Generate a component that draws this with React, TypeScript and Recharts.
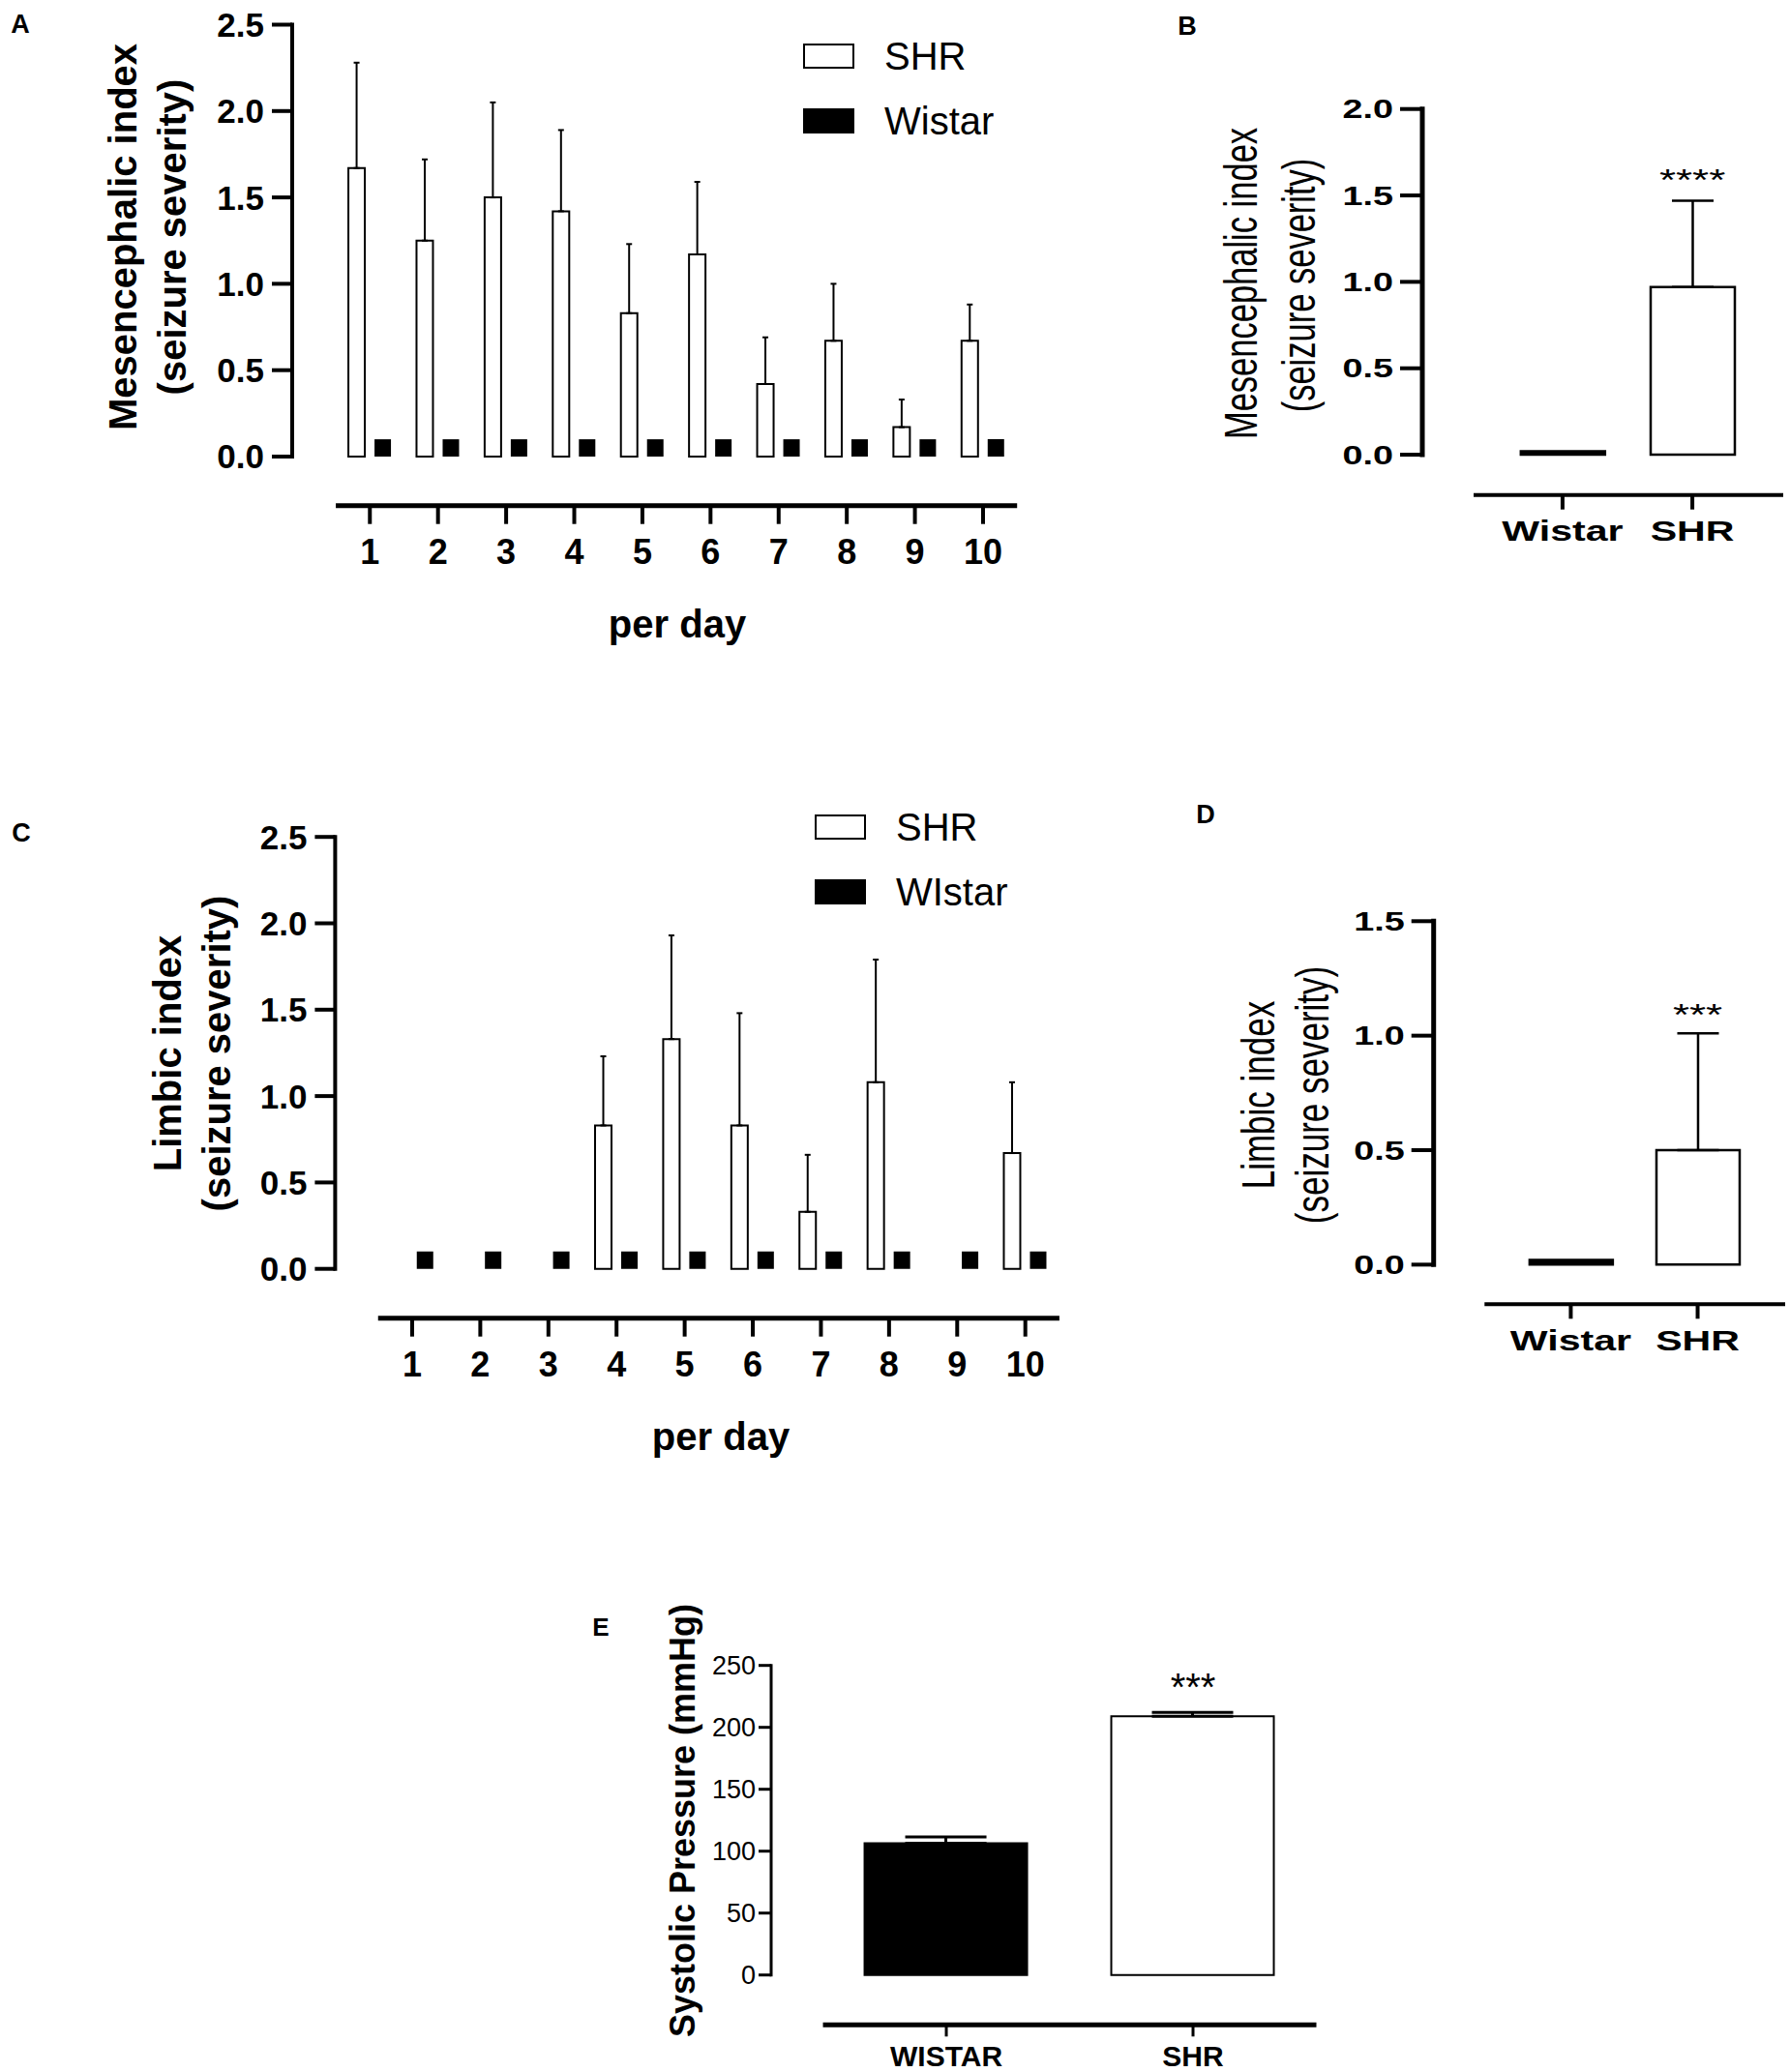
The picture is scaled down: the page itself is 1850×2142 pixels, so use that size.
import React from 'react';
import {
  BarChart,
  Bar,
  XAxis,
  YAxis,
  ErrorBar,
  ReferenceLine,
  ReferenceDot,
  Legend,
  Cell,
} from 'recharts';

const FONT = '"Liberation Sans", Arial, Helvetica, sans-serif';
const INK = '#000';

// ---- A: mesencephalic index per day ----
const days = [1, 2, 3, 4, 5, 6, 7, 8, 9, 10];
const mesShr = [1.67, 1.25, 1.5, 1.42, 0.83, 1.17, 0.42, 0.67, 0.17, 0.67];
const mesShrErr = [0.61, 0.47, 0.55, 0.47, 0.4, 0.42, 0.27, 0.33, 0.16, 0.21];
const mesWistar = [0.1, 0.1, 0.1, 0.1, 0.1, 0.1, 0.1, 0.1, 0.1, 0.1];

// ---- C: limbic index per day ----
const limShr = [0, 0, 0, 0.83, 1.33, 0.83, 0.33, 1.08, 0, 0.67];
const limShrErr = [null, null, null, 0.4, 0.6, 0.65, 0.33, 0.71, null, 0.41];
const limWistar = [0.1, 0.1, 0.1, 0.1, 0.1, 0.1, 0.1, 0.1, 0.1, 0.1];

const dayYTicks = [0, 0.5, 1, 1.5, 2, 2.5];

// ---- B / D: whole-period index ----
const groups = ['Wistar', 'SHR'];
const groupFills = [INK, '#fff'];
const mesTotal = [0.02, 0.97];
const mesTotalErr = [null, 0.5];
const limTotal = [0.02, 0.5];
const limTotalErr = [null, 0.51];
const mesTotalTicks = [0, 0.5, 1, 1.5, 2];
const limTotalTicks = [0, 0.5, 1, 1.5];

// ---- E: systolic pressure ----
const pressureGroups = ['WISTAR', 'SHR'];
const pressure = [106.5, 209];
const pressureErr = [5, 3];
const pressureTicks = [0, 50, 100, 150, 200, 250];

type Box = { left: number; top: number; width: number; height: number };
type Plot = { left: number; top: number; right: number; bottom: number };

const Y_W = 120;

function marginFor(box: Box, plot: Plot, xh: number) {
  return {
    left: plot.left - box.left - Y_W,
    top: plot.top - box.top,
    right: box.left + box.width - plot.right,
    bottom: box.top + box.height - plot.bottom - xh,
  };
}

const dayRows = (shr: number[], err: (number | null)[], wis: number[]) =>
  days.map((d, i) => ({
    day: d,
    shr: shr[i],
    shrErr: err[i] == null ? null : [0, err[i]],
    wistar: wis[i],
  }));

const groupRows = (vals: number[], errs: (number | null)[]) =>
  vals.map((v, i) => ({
    pos: i + 1,
    value: v,
    err: errs[i] == null ? null : [0, errs[i]],
    fill: groupFills[i],
  }));

function TextAt({ x, y, text, size, weight = 700, rotate = false, sx = 1 }: any) {
  const tf = `translate(-50%,-50%)${sx !== 1 ? ` scale(${sx},1)` : ''}${rotate ? ' rotate(-90deg)' : ''}`;
  return (
    <div style={{ position: 'absolute', left: x, top: y, width: 0, height: 0 }}>
      <span
        style={{
          position: 'absolute',
          left: 0,
          top: 0,
          transform: tf,
          whiteSpace: 'nowrap',
          fontFamily: FONT,
          fontSize: size,
          fontWeight: weight,
          lineHeight: 1,
          color: INK,
        }}
      >
        {text}
      </span>
    </div>
  );
}

function DayLegend({ names, gap }: { names: string[]; gap: number }) {
  return (
    <div style={{ position: 'relative', width: 280, height: gap + 30 }}>
      {names.map((n, i) => (
        <div
          key={n}
          style={{ position: 'absolute', left: 0, top: i * gap, height: 26, display: 'flex', alignItems: 'center' }}
        >
          <div
            style={{
              width: 53,
              height: 26,
              boxSizing: 'border-box',
              border: `2.5px solid ${INK}`,
              background: i === 0 ? '#fff' : INK,
            }}
          />
          <span style={{ marginLeft: 31, fontFamily: FONT, fontSize: 40, lineHeight: '26px', color: INK }}>{n}</span>
        </div>
      ))}
    </div>
  );
}

function DayPanel({ box, plot, data, xDomain, yDomain, names, legend }: any) {
  const xh = 90;
  const margin = marginFor(box, plot, xh);
  return (
    <div style={{ position: 'absolute', left: box.left, top: box.top }}>
      <BarChart width={box.width} height={box.height} data={data} margin={margin} barSize={17} barGap={10}>
        <XAxis
          type="number"
          dataKey="day"
          domain={xDomain}
          ticks={days}
          interval={0}
          height={xh}
          allowDataOverflow
          axisLine={false}
          tickLine={{ stroke: INK, strokeWidth: 4 }}
          tickSize={19}
          tickMargin={16}
          tick={{ fill: INK, fontSize: 36, fontWeight: 700, fontFamily: FONT }}
        />
        <YAxis
          type="number"
          domain={yDomain}
          ticks={dayYTicks}
          interval={0}
          width={Y_W}
          allowDataOverflow
          axisLine={false}
          tickLine={{ stroke: INK, strokeWidth: 4 }}
          tickSize={21}
          tickMargin={8}
          tickFormatter={(v: number) => v.toFixed(1)}
          tick={{ fill: INK, fontSize: 35, fontWeight: 700, fontFamily: FONT }}
        />
        <ReferenceLine
          segment={[{ x: xDomain[0], y: 0 }, { x: xDomain[0], y: yDomain[1] }]}
          stroke={INK}
          strokeWidth={4}
          strokeLinecap="square"
          ifOverflow="visible"
        />
        <ReferenceLine
          segment={[{ x: 0.5, y: yDomain[0] }, { x: 10.5, y: yDomain[0] }]}
          stroke={INK}
          strokeWidth={5}
          ifOverflow="visible"
        />
        <Bar dataKey="shr" name={names[0]} fill="#fff" stroke={INK} strokeWidth={2} isAnimationActive={false}>
          <ErrorBar dataKey="shrErr" direction="y" width={3} stroke={INK} strokeWidth={2} isAnimationActive={false} />
        </Bar>
        <Bar dataKey="wistar" name={names[1]} fill={INK} isAnimationActive={false} />
        <Legend
          layout="vertical"
          align="center"
          verticalAlign="middle"
          wrapperStyle={{ left: legend.left - box.left, top: legend.top - box.top, width: 280 }}
          content={() => <DayLegend names={names} gap={legend.gap} />}
        />
      </BarChart>
    </div>
  );
}

function StretchTick({ x, y, payload, anchor, size, weight, sx, labels, fmt, top }: any) {
  const label = labels ? labels[payload.value - 1] : fmt(payload.value);
  const dy = top ? 0.716 * size : 0.358 * size;
  return (
    <text
      transform={`translate(${x},${y + dy}) scale(${sx},1)`}
      textAnchor={anchor}
      fontSize={size}
      fontWeight={weight}
      fontFamily={FONT}
      fill={INK}
    >
      {label}
    </text>
  );
}

function GroupPanel({ box, plot, xh, data, xDomain, yDomain, yTicks, labels, o }: any) {
  const margin = marginFor(box, plot, xh);
  const sig = data[1];
  const sigTop = sig.value + (sig.err ? sig.err[1] : 0);
  return (
    <div style={{ position: 'absolute', left: box.left, top: box.top }}>
      <BarChart width={box.width} height={box.height} data={data} margin={margin} barSize={o.barSize}>
        <XAxis
          type="number"
          dataKey="pos"
          domain={xDomain}
          ticks={[1, 2]}
          interval={0}
          height={xh}
          allowDataOverflow
          axisLine={false}
          tickLine={{ stroke: INK, strokeWidth: o.xTickW }}
          tickSize={o.xTickSize}
          tickMargin={o.xTickMargin}
          tick={(p: any) => (
            <StretchTick {...p} anchor="middle" size={o.xFont} weight={700} sx={o.sx} labels={labels} top />
          )}
        />
        <YAxis
          type="number"
          domain={yDomain}
          ticks={yTicks}
          interval={0}
          width={Y_W}
          allowDataOverflow
          axisLine={false}
          tickLine={{ stroke: INK, strokeWidth: o.yTickW }}
          tickSize={o.yTickSize}
          tickMargin={o.yTickMargin}
          tick={(p: any) => (
            <StretchTick {...p} anchor="end" size={o.yFont} weight={o.yWeight} sx={o.ySx} fmt={o.fmt} />
          )}
        />
        <ReferenceLine
          segment={[{ x: xDomain[0], y: 0 }, { x: xDomain[0], y: yDomain[1] }]}
          stroke={INK}
          strokeWidth={o.yLineW}
          strokeLinecap="square"
          ifOverflow="visible"
        />
        <ReferenceLine
          segment={[{ x: o.lineFrom, y: yDomain[0] }, { x: xDomain[1], y: yDomain[0] }]}
          stroke={INK}
          strokeWidth={o.xLineW}
          ifOverflow="visible"
        />
        <Bar dataKey="value" stroke={INK} strokeWidth={o.barStroke} isAnimationActive={false}>
          {data.map((r: any) => (
            <Cell key={r.pos} fill={r.fill} />
          ))}
          <ErrorBar
            dataKey="err"
            direction="y"
            width={o.cap}
            stroke={INK}
            strokeWidth={o.errW}
            isAnimationActive={false}
          />
        </Bar>
        <ReferenceDot
          x={2}
          y={sigTop}
          ifOverflow="visible"
          shape={(p: any) => (
            <text
              transform={`translate(${p.cx},${p.cy - o.starGap + 0.57 * o.starFont}) scale(${o.sx},1)`}
              textAnchor="middle"
              fontSize={o.starFont}
              fontFamily={FONT}
              fill={INK}
            >
              {o.star}
            </text>
          )}
        />
      </BarChart>
    </div>
  );
}

const fmt1 = (v: number) => v.toFixed(1);
const fmt0 = (v: number) => String(v);

const totalStyle = {
  barSize: 87,
  sx: 1.37,
  xFont: 30,
  xTickW: 4,
  xTickSize: 15,
  xTickMargin: 11,
  yFont: 27,
  yWeight: 700,
  ySx: 1.4,
  yTickW: 4,
  yTickSize: 23,
  yTickMargin: 7,
  yLineW: 5,
  xLineW: 4,
  barStroke: 2.5,
  cap: 21.5,
  errW: 2.5,
  starFont: 32,
  fmt: fmt1,
};

export default function App() {
  return (
    <div
      style={{
        position: 'absolute',
        left: 0,
        top: 0,
        width: 1850,
        height: 2142,
        background: '#fff',
        overflow: 'hidden',
      }}
    >
      {/* A */}
      <DayPanel
        box={{ left: 0, top: 0, width: 1100, height: 720 }}
        plot={{ left: 302, top: 25.5, right: 1051.2, bottom: 522.7 }}
        data={dayRows(mesShr, mesShrErr, mesWistar)}
        xDomain={[-0.14, 10.5]}
        yDomain={[-0.284, 2.5]}
        names={['SHR', 'Wistar']}
        legend={{ left: 830, top: 45, gap: 67 }}
      />
      <TextAt x={21} y={25} text="A" size={27} />
      <TextAt x={127} y={245} text="Mesencephalic index" size={40} rotate />
      <TextAt x={178} y={245} text="(seizure severity)" size={40} rotate />
      <TextAt x={700} y={645} text="per day" size={40} />

      {/* B */}
      <GroupPanel
        box={{ left: 1150, top: 0, width: 700, height: 640 }}
        plot={{ left: 1470, top: 112.7, right: 1843, bottom: 511.7 }}
        xh={90}
        data={groupRows(mesTotal, mesTotalErr)}
        xDomain={[-0.08, 2.7]}
        yDomain={[-0.233, 2]}
        yTicks={mesTotalTicks}
        labels={groups}
        o={{ ...totalStyle, lineFrom: 0.315, star: '****', starGap: 29 }}
      />
      <TextAt x={1227} y={27} text="B" size={27} />
      <TextAt x={1283} y={293} text="Mesencephalic index" size={34.5} weight={400} rotate sx={1.37} />
      <TextAt x={1343} y={295} text="(seizure severity)" size={34.5} weight={400} rotate sx={1.37} />

      {/* C */}
      <DayPanel
        box={{ left: 0, top: 800, width: 1100, height: 720 }}
        plot={{ left: 346.4, top: 865.2, right: 1094.9, bottom: 1362.7 }}
        data={dayRows(limShr, limShrErr, limWistar)}
        xDomain={[-0.13, 10.5]}
        yDomain={[-0.2855, 2.5]}
        names={['SHR', 'WIstar']}
        legend={{ left: 842, top: 842, gap: 67 }}
      />
      <TextAt x={22} y={861} text="C" size={27} />
      <TextAt x={173} y={1089} text="Limbic index" size={40} rotate />
      <TextAt x={224} y={1089} text="(seizure severity)" size={40} rotate />
      <TextAt x={745} y={1485} text="per day" size={40} />

      {/* D */}
      <GroupPanel
        box={{ left: 1150, top: 800, width: 700, height: 660 }}
        plot={{ left: 1481.7, top: 952.3, right: 1845, bottom: 1348.3 }}
        xh={90}
        data={groupRows(limTotal, limTotalErr)}
        xDomain={[-0.081, 2.69]}
        yDomain={[-0.173, 1.5]}
        yTicks={limTotalTicks}
        labels={groups}
        o={{ ...totalStyle, barSize: 86, lineFrom: 0.32, star: '***', starGap: 27 }}
      />
      <TextAt x={1246} y={842} text="D" size={27} />
      <TextAt x={1300} y={1132} text="Limbic index" size={35} weight={400} rotate sx={1.37} />
      <TextAt x={1356} y={1132} text="(seizure severity)" size={35} weight={400} rotate sx={1.37} />

      {/* E */}
      <GroupPanel
        box={{ left: 600, top: 1650, width: 800, height: 492 }}
        plot={{ left: 797, top: 1721.7, right: 1360.5, bottom: 2093.3 }}
        xh={45}
        data={groupRows(pressure, pressureErr)}
        xDomain={[0.29, 2.5]}
        yDomain={[-40.3, 250]}
        yTicks={pressureTicks}
        labels={pressureGroups}
        o={{
          barSize: 168,
          sx: 1,
          xFont: 30,
          xTickW: 3,
          xTickSize: 12,
          xTickMargin: 9,
          yFont: 27,
          yWeight: 400,
          ySx: 1,
          yTickW: 3,
          yTickSize: 13,
          yTickMargin: 3,
          yLineW: 3,
          xLineW: 5,
          barStroke: 2,
          cap: 42,
          errW: 3,
          starFont: 40,
          fmt: fmt0,
          lineFrom: 0.5,
          star: '***',
          starGap: 35,
        }}
      />
      <TextAt x={621} y={1682} text="E" size={26} />
      <TextAt x={706} y={1882} text="Systolic Pressure (mmHg)" size={36} rotate />
    </div>
  );
}
